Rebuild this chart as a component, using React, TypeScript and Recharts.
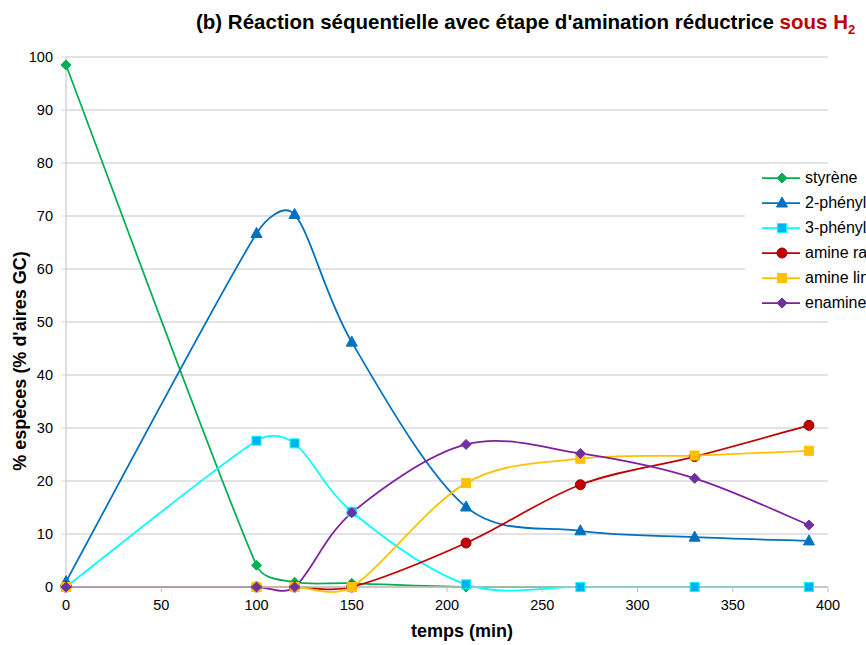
import React from "react";
import { LineChart, Line, XAxis, YAxis, CartesianGrid } from "recharts";

// Sampling times (min)
const times = [0, 100, 120, 150, 210, 270, 330, 390];

// % species (GC area %) per compound
const styrene = [98.5, 4.1, 0.9, 0.7, 0, 0, 0, 0];
const phenyl2 = [1.0, 66.7, 70.3, 46.2, 15.1, 10.6, 9.4, 8.7];
const phenyl3 = [0, 27.6, 27.1, 14.2, 0.5, 0, 0, 0];
const amineRam = [0, 0, 0, 0, 8.3, 19.3, 24.6, 30.5];
const amineLin = [0, 0, 0, 0, 19.6, 24.2, 24.8, 25.7];
const enamine = [0, 0, 0, 14.0, 26.9, 25.2, 20.5, 11.7];

const xTicks = [0, 50, 100, 150, 200, 250, 300, 350, 400];
const yTicks = [0, 10, 20, 30, 40, 50, 60, 70, 80, 90, 100];

const seriesNames = [
  "styrène",
  "2-phénylpropanal",
  "3-phénylpropanal",
  "amine ramifiée",
  "amine linéaire",
  "enamine",
];

const data = times.map((t, i) => ({
  t,
  s0: styrene[i],
  s1: phenyl2[i],
  s2: phenyl3[i],
  s3: amineRam[i],
  s4: amineLin[i],
  s5: enamine[i],
}));

const FONT = "'Liberation Sans', Arial, Helvetica, sans-serif";

// Smoothed line: Catmull-Rom style Bezier, control arms limited relative to the segment
const smoothCurve = (context: any) => {
  let pts: [number, number][] = [];
  return {
    areaStart() {},
    areaEnd() {},
    lineStart() {
      pts = [];
    },
    point(x: number, y: number) {
      pts.push([+x, +y]);
    },
    lineEnd() {
      if (!pts.length) return;
      context.moveTo(pts[0][0], pts[0][1]);
      const n = pts.length;
      for (let i = 0; i < n - 1; i++) {
        const p0 = pts[Math.max(0, i - 1)];
        const p1 = pts[i];
        const p2 = pts[i + 1];
        const p3 = pts[Math.min(n - 1, i + 2)];
        const seg = Math.hypot(p2[0] - p1[0], p2[1] - p1[1]);
        const cap = seg * 0.38;
        let ax = (p2[0] - p0[0]) / 6;
        let ay = (p2[1] - p0[1]) / 6;
        const la = Math.hypot(ax, ay);
        if (la > cap && la > 0) {
          ax *= cap / la;
          ay *= cap / la;
        }
        let bx = (p3[0] - p1[0]) / 6;
        let by = (p3[1] - p1[1]) / 6;
        const lb = Math.hypot(bx, by);
        if (lb > cap && lb > 0) {
          bx *= cap / lb;
          by *= cap / lb;
        }
        context.bezierCurveTo(p1[0] + ax, p1[1] + ay, p2[0] - bx, p2[1] - by, p2[0], p2[1]);
      }
    },
  };
};

type MarkerKind = "diamond" | "triangle" | "square" | "circle";

const Marker = ({ kind, cx, cy, fill, stroke }: { kind: MarkerKind; cx: number; cy: number; fill: string; stroke: string }) => {
  if (kind === "diamond") {
    const r = 5;
    return (
      <polygon
        points={`${cx},${cy - r} ${cx + r},${cy} ${cx},${cy + r} ${cx - r},${cy}`}
        fill={fill}
        stroke={stroke}
        strokeWidth={1}
      />
    );
  }
  if (kind === "triangle") {
    return (
      <polygon
        points={`${cx},${cy - 6} ${cx + 5.5},${cy + 4} ${cx - 5.5},${cy + 4}`}
        fill={fill}
        stroke={stroke}
        strokeWidth={1}
      />
    );
  }
  if (kind === "square") {
    return <rect x={cx - 4.5} y={cy - 4.5} width={9} height={9} fill={fill} stroke={stroke} strokeWidth={1} />;
  }
  return <circle cx={cx} cy={cy} r={5} fill={fill} stroke={stroke} strokeWidth={1} />;
};

const series = [
  { key: "s0", line: "#00B050", fill: "#00B050", stroke: "#00B050", kind: "diamond" as MarkerKind },
  { key: "s1", line: "#0070C0", fill: "#0070C0", stroke: "#0070C0", kind: "triangle" as MarkerKind },
  { key: "s2", line: "#00FFFF", fill: "#00B0F0", stroke: "#00FFFF", kind: "square" as MarkerKind },
  { key: "s3", line: "#C00000", fill: "#C00000", stroke: "#A00000", kind: "circle" as MarkerKind },
  { key: "s4", line: "#FFC000", fill: "#FFC000", stroke: "#FFC000", kind: "square" as MarkerKind },
  { key: "s5", line: "#7F1F9F", fill: "#7030A0", stroke: "#7030A0", kind: "diamond" as MarkerKind },
];

export default function App() {
  return (
    <div
      style={{
        position: "fixed",
        left: 0,
        top: 0,
        width: 866,
        height: 645,
        overflow: "hidden",
        background: "#fff",
        fontFamily: FONT,
      }}
    >
      <LineChart
        width={866}
        height={645}
        data={data}
        margin={{ top: 57, right: 38, bottom: 28, left: 26 }}
      >
        <CartesianGrid vertical={false} stroke="#D9D9D9" strokeWidth={1.5} />
        <XAxis
          dataKey="t"
          type="number"
          domain={[0, 400]}
          ticks={xTicks}
          interval={0}
          height={30}
          axisLine={{ stroke: "#BFBFBF", strokeWidth: 1.5 }}
          tickLine={{ stroke: "#BFBFBF" }}
          tickSize={5}
          tickMargin={8}
          tick={{ fill: "#000", fontSize: 14.5, fontFamily: FONT }}
        />
        <YAxis
          type="number"
          domain={[0, 100]}
          ticks={yTicks}
          interval={0}
          width={40}
          axisLine={{ stroke: "#BFBFBF" }}
          tickLine={{ stroke: "#D9D9D9" }}
          tickSize={5}
          tickMargin={8}
          tick={{ fill: "#000", fontSize: 14.5, fontFamily: FONT }}
        />
        {series.map((s) => (
          <Line
            key={s.key}
            dataKey={s.key}
            type={smoothCurve as any}
            stroke={s.line}
            strokeWidth={1.75}
            isAnimationActive={false}
            activeDot={false}
            dot={(p: any) => (
              <Marker key={`${s.key}-${p.index}`} kind={s.kind} cx={p.cx} cy={p.cy} fill={s.fill} stroke={s.stroke} />
            )}
          />
        ))}
      </LineChart>

      {/* Title */}
      <div
        style={{
          position: "absolute",
          left: 196,
          top: 10,
          fontSize: 20.5,
          fontWeight: "bold",
          whiteSpace: "nowrap",
          color: "#000",
        }}
      >
        (b) Réaction séquentielle avec étape d'amination réductrice{" "}
        <span style={{ color: "#C00000" }}>
          sous H<sub style={{ fontSize: 13, verticalAlign: -5 }}>2</sub>
        </span>
      </div>

      {/* Axis titles */}
      <div
        style={{
          position: "absolute",
          left: 312,
          width: 300,
          top: 621,
          textAlign: "center",
          fontSize: 18,
          fontWeight: "bold",
          whiteSpace: "nowrap",
        }}
      >
        temps (min)
      </div>
      <div
        style={{
          position: "absolute",
          left: 20,
          top: 361,
          width: 300,
          textAlign: "center",
          fontSize: 18,
          fontWeight: "bold",
          whiteSpace: "nowrap",
          transform: "translate(-50%, -50%) rotate(-90deg)",
          lineHeight: "20px",
        }}
      >
        % espèces (% d'aires GC)
      </div>

      {/* Legend */}
      <div
        style={{
          position: "absolute",
          left: 745,
          top: 165,
          width: 200,
          paddingLeft: 17,
          background: "#fff",
        }}
      >
        {series.map((s, i) => (
          <div key={s.key} style={{ display: "flex", alignItems: "center", height: 25 }}>
            <svg width={38} height={14} style={{ flex: "none" }}>
              <line x1={0} y1={7} x2={38} y2={7} stroke={s.line} strokeWidth={1.75} />
              <Marker kind={s.kind} cx={20} cy={7} fill={s.fill} stroke={s.stroke} />
            </svg>
            <span style={{ marginLeft: 5, fontSize: 16, whiteSpace: "nowrap" }}>{seriesNames[i]}</span>
          </div>
        ))}
      </div>
    </div>
  );
}
